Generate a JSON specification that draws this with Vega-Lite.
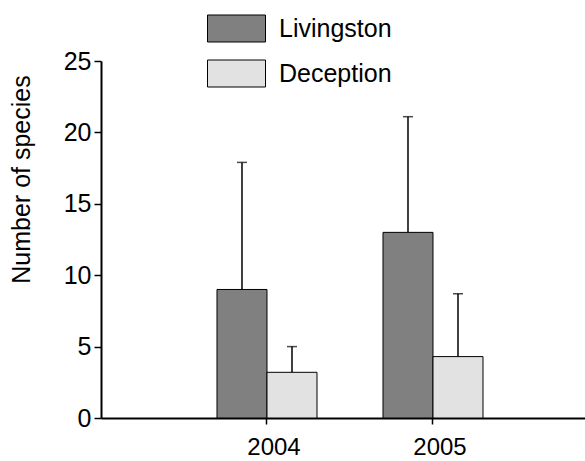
{
  "$schema": "https://vega.github.io/schema/vega-lite/v6.json",
  "width": 484,
  "height": 357,
  "autosize": {"type": "none"},
  "padding": {"left": 101, "top": 61, "right": 0, "bottom": 43},
  "background": "white",
  "config": {
    "view": {"stroke": null},
    "font": "Liberation Sans",
    "axis": {
      "grid": false,
      "domainColor": "black",
      "tickColor": "black",
      "labelColor": "black",
      "titleColor": "black",
      "labelFont": "Liberation Sans",
      "titleFont": "Liberation Sans",
      "labelFontSize": 25,
      "titleFontSize": 25,
      "titleFontWeight": "normal",
      "domainWidth": 2,
      "tickWidth": 1.5
    }
  },
  "data": {
    "values": [
      {"year": "2004", "site": "Livingston", "n": 9.0, "upper": 17.9},
      {"year": "2004", "site": "Deception", "n": 3.2, "upper": 5.0},
      {"year": "2005", "site": "Livingston", "n": 13.0, "upper": 21.1},
      {"year": "2005", "site": "Deception", "n": 4.3, "upper": 8.7}
    ]
  },
  "encoding": {
    "x": {
      "field": "year",
      "type": "nominal",
      "scale": {"domain": ["2004", "2005"], "paddingInner": 0, "paddingOuter": 0.4578, "align": 0.546},
      "axis": {"title": null, "labelAngle": 0, "tickSize": 6, "labelPadding": 11, "labelOffset": 7, "labelFontSize": 24}
    },
    "xOffset": {
      "field": "site",
      "type": "nominal",
      "scale": {"domain": ["Livingston", "Deception"], "paddingInner": 0, "paddingOuter": 0.66}
    }
  },
  "layer": [
    {
      "mark": {"type": "bar", "stroke": "black", "strokeWidth": 1},
      "encoding": {
        "y": {
          "field": "n",
          "type": "quantitative",
          "scale": {"domain": [0, 25], "nice": false},
          "axis": {
            "title": "Number of species",
            "values": [0, 5, 10, 15, 20, 25],
            "tickSize": 7,
            "labelPadding": 3,
            "titlePadding": 29,
            "titleY": 118
          }
        },
        "color": {
          "field": "site",
          "type": "nominal",
          "scale": {"domain": ["Livingston", "Deception"], "range": ["#808080", "#e2e2e2"]},
          "legend": {
            "orient": "none",
            "legendX": 106,
            "legendY": -62,
            "title": null,
            "padding": 0,
            "symbolType": "M-1,-0.4655H1V0.4655H-1Z",
            "symbolSize": 3364,
            "symbolStrokeColor": "black",
            "symbolStrokeWidth": 1,
            "symbolOpacity": 1,
            "labelFont": "Liberation Sans",
            "labelFontSize": 25,
            "labelColor": "black",
            "labelOffset": 13,
            "rowPadding": -16
          }
        }
      }
    },
    {
      "mark": {"type": "rule", "color": "black", "strokeWidth": 1.5},
      "encoding": {
        "y": {"field": "n", "type": "quantitative", "title": "Number of species"},
        "y2": {"field": "upper"}
      }
    },
    {
      "mark": {"type": "tick", "color": "black", "size": 10, "thickness": 1.5, "orient": "horizontal"},
      "encoding": {
        "y": {"field": "upper", "type": "quantitative", "title": "Number of species"}
      }
    }
  ]
}
